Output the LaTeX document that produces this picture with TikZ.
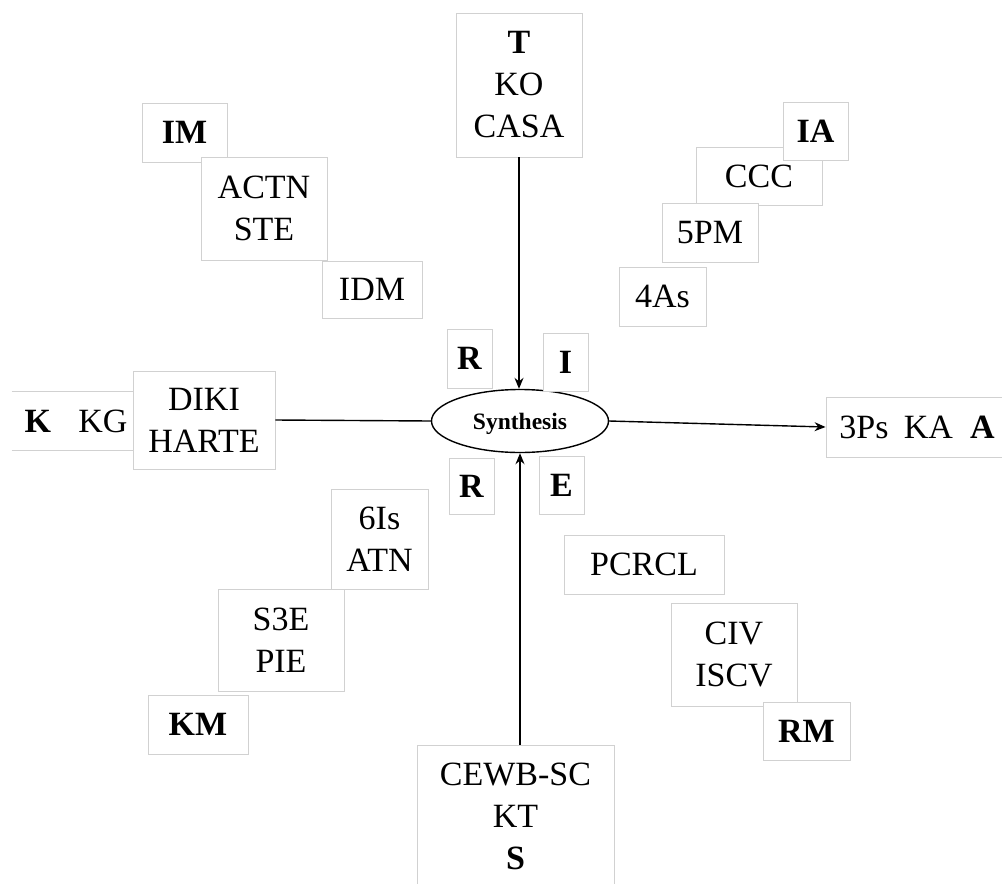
\documentclass[tikz,border=0pt]{standalone}
\usepackage{fontspec}
\setmainfont{Liberation Serif}
\usetikzlibrary{shapes.geometric, arrows.meta, positioning}

\begin{document}
\begin{tikzpicture}[x=1pt, y=-1pt,
  card/.style={rectangle, draw=black!18, line width=0.9pt, fill=white,
    inner sep=0pt, align=center, font=\fontsize{34}{42}\selectfont},
  hub/.style={ellipse, draw, line width=1.4pt, fill=white, minimum width=177pt,
    minimum height=63pt, inner sep=0pt, text depth=0pt,
    font=\fontsize{23.5}{28}\selectfont\bfseries},
  arr/.style={-{Stealth[length=11pt,width=9pt]}, line width=1.4pt},
  link/.style={line width=1.4pt}
]
\clip (0,0) rectangle (1002,884);
\useasboundingbox (0,0) rectangle (1002,884);

% Centre
\node[hub] (synth) at (520,421) {Synthesis};

% Nodes
\node[card, minimum width=126pt, minimum height=144pt] (topcard) at (519,85)
  {\textbf{T}\\KO\\CASA};
\node[card, minimum width=197pt, minimum height=142pt, anchor=north,
  inner ysep=17pt] (botcard) at (515.5,745) {CEWB-SC\\KT\\\textbf{S}};

\node[card, draw=none, fill=none, minimum width=128pt, minimum height=58pt]
  (kkg) at (76,421) {\textbf{K}\hspace{0.8em}KG};
\draw[black!18, line width=0.9pt] (kkg.north west) -- (kkg.north east)
  (kkg.south west) -- (kkg.south east);
\node[card, minimum width=142pt, minimum height=98pt] (diki) at (204,420)
  {DIKI\\HARTE};
\node[card, minimum width=182pt, minimum height=60pt] (threeps) at (917,427)
  {3Ps\hspace{0.45em}KA\hspace{0.5em}\textbf{A}};

% top left steps
\node[card, minimum width=85pt, minimum height=59pt] (im) at (184.5,132.5) {\textbf{IM}};
\node[card, minimum width=126pt, minimum height=103pt] (actn) at (264,208.5) {ACTN\\STE};
\node[card, minimum width=100pt, minimum height=57pt] (idm) at (372,289.5) {IDM};

% top right steps
\node[card, minimum width=126pt, minimum height=58pt] (ccc) at (759,176) {CCC};
\node[card, minimum width=65pt, minimum height=58pt] (ia) at (815.5,131) {\textbf{IA}};
\node[card, minimum width=96pt, minimum height=59pt] (fivepm) at (710,232.5) {5PM};
\node[card, minimum width=87pt, minimum height=59pt] (fouras) at (662.5,296.5) {4As};

% letters round the centre
\node[card, minimum width=45pt, minimum height=59pt] (rtop) at (469.5,358.5) {\textbf{R}};
\node[card, minimum width=45pt, minimum height=58pt] (ltri) at (565.5,362) {\textbf{I}};
\node[card, minimum width=45pt, minimum height=56pt] (rbot) at (471.5,486) {\textbf{R}};
\node[card, minimum width=45pt, minimum height=58pt] (ltre) at (561.5,485) {\textbf{E}};

% bottom left steps
\node[card, minimum width=97pt, minimum height=100pt] (sixis) at (379.5,539) {6Is\\ATN};
\node[card, minimum width=126pt, minimum height=102pt] (sthree) at (281,640) {S3E\\PIE};
\node[card, minimum width=100pt, minimum height=59pt] (km) at (198,724.5) {\textbf{KM}};

% bottom right steps
\node[card, minimum width=160pt, minimum height=59pt] (pcrcl) at (644,564.5) {PCRCL};
\node[card, minimum width=126pt, minimum height=103pt] (civ) at (734,654.5) {CIV\\ISCV};
\node[card, minimum width=87pt, minimum height=58pt] (rm) at (806.5,731) {\textbf{RM}};

% Arrows
\draw[arr] (topcard.south) -- (topcard.south |- synth.north);
\draw[arr] (botcard.north -| synth.south) -- (synth.south);
\draw[link] (diki.east) -- (synth.west);
\draw[arr] (synth.east) -- (threeps.west);

\end{tikzpicture}
\end{document}
